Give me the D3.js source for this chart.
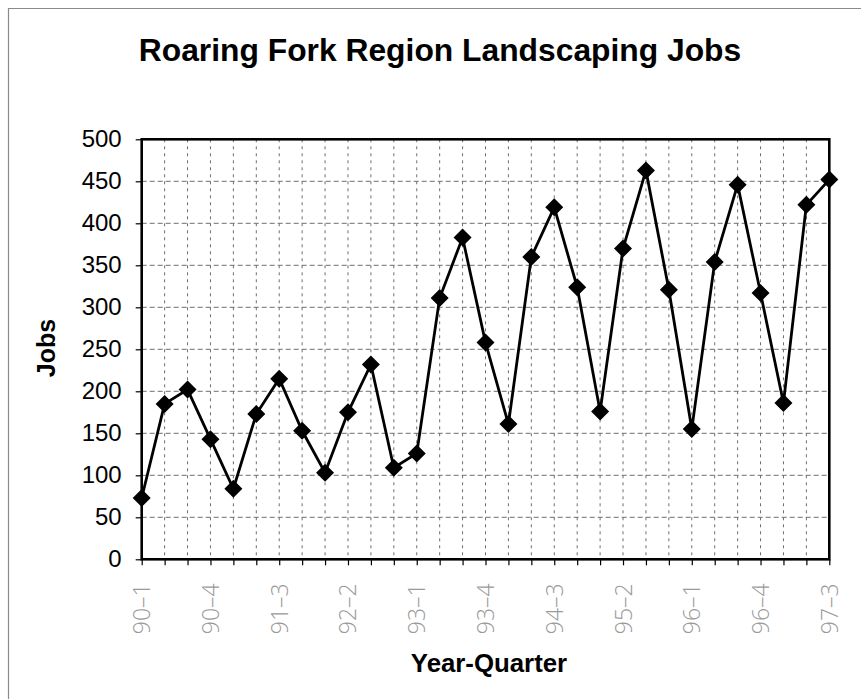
<!DOCTYPE html>
<html>
<head>
<meta charset="utf-8">
<script src="https://cdn.jsdelivr.net/npm/d3@7"></script>
<style>
  html, body { margin: 0; padding: 0; background: #ffffff; }
  svg { display: block; }
</style>
</head>
<body>
<svg id="chart" width="861" height="699"></svg>
<script>
// Quarterly landscaping jobs, Roaring Fork region, 1990 Q1 – 1997 Q3
const quarters = [
  "90-1","90-2","90-3","90-4",
  "91-1","91-2","91-3","91-4",
  "92-1","92-2","92-3","92-4",
  "93-1","93-2","93-3","93-4",
  "94-1","94-2","94-3","94-4",
  "95-1","95-2","95-3","95-4",
  "96-1","96-2","96-3","96-4",
  "97-1","97-2","97-3"
];
const jobs = [
  73, 185, 202, 143,
  84, 173, 215, 153,
  103, 175, 232, 109,
  126, 311, 383, 258,
  161, 360, 419, 324,
  176, 370, 463, 321,
  155, 354, 446, 317,
  186, 422, 452
];
// Quarters that carry a printed label on the horizontal axis
const labelledQuarters = ["90-1","90-4","91-3","92-2","93-1","93-4","94-3","95-2","96-1","96-4","97-3"];
const yTicks = [0, 50, 100, 150, 200, 250, 300, 350, 400, 450, 500];

const svg = d3.select("#chart");
const W = 861, H = 699;
const plot = { left: 141.7, right: 829.3, top: 139.3, bottom: 559.3 };

const x = d3.scalePoint().domain(quarters).range([plot.left, plot.right]);
const y = d3.scaleLinear().domain([0, 500]).range([plot.bottom, plot.top]);

// page frame (top and left edge of the sheet)
svg.append("path")
  .attr("d", `M8.5,${H}V8.5H${W}`)
  .attr("fill", "none")
  .attr("stroke", "#8a8a8a")
  .attr("stroke-width", 1.2);

// title
svg.append("text")
  .attr("x", 440).attr("y", 61)
  .attr("text-anchor", "middle")
  .attr("font-family", "'Liberation Sans', Arial, sans-serif")
  .attr("font-weight", "bold")
  .attr("font-size", 31.8)
  .attr("fill", "#000")
  .text("Roaring Fork Region Landscaping Jobs");

// dashed grid
const grid = svg.append("g").attr("stroke", "#6e6e6e").attr("stroke-width", 1).attr("fill", "none");
grid.selectAll("line.h")
  .data(yTicks.filter(v => v > 0 && v < 500))
  .join("line").attr("class", "h")
  .attr("x1", plot.left).attr("x2", plot.right)
  .attr("y1", d => y(d)).attr("y2", d => y(d))
  .attr("stroke-dasharray", "5,3");
grid.selectAll("line.v")
  .data(quarters.slice(1, -1))
  .join("line").attr("class", "v")
  .attr("x1", d => x(d)).attr("x2", d => x(d))
  .attr("y1", plot.top).attr("y2", plot.bottom)
  .attr("stroke-dasharray", "3,4");

// y axis
const yAxis = d3.axisLeft(y).tickValues(yTicks).tickSize(6).tickPadding(14);
const gy = svg.append("g").attr("transform", `translate(${plot.left},0)`).call(yAxis);
gy.select(".domain").remove();
gy.selectAll(".tick line").attr("stroke", "#000").attr("stroke-width", 1.2);
gy.selectAll(".tick text")
  .attr("font-family", "'Liberation Sans', Arial, sans-serif")
  .attr("font-size", 24)
  .attr("fill", "#000");

// x axis: tick at every quarter, label on every third
const xAxis = d3.axisBottom(x).tickSize(6).tickFormat("");
const gx = svg.append("g").attr("transform", `translate(0,${plot.bottom})`).call(xAxis);
gx.select(".domain").remove();
gx.selectAll(".tick line").attr("stroke", "#000").attr("stroke-width", 1.2);

svg.append("g").selectAll("text")
  .data(labelledQuarters)
  .join("text")
  .attr("transform", d => `translate(${x(d) + 8.5},${plot.bottom + 24}) rotate(-90)`)
  .attr("text-anchor", "end")
  .attr("font-family", "'Open Sans', 'Liberation Sans', sans-serif")
  .attr("font-weight", 300)
  .attr("font-size", 23)
  .attr("fill", "#9a9a9a")
  .text(d => d.replace("-", "\u2013"));

// plot frame
svg.append("rect")
  .attr("x", plot.left).attr("y", plot.top)
  .attr("width", plot.right - plot.left)
  .attr("height", plot.bottom - plot.top)
  .attr("fill", "none")
  .attr("stroke", "#000")
  .attr("stroke-width", 2.6);

// axis titles
svg.append("text")
  .attr("transform", "translate(55,348) rotate(-90)")
  .attr("text-anchor", "middle")
  .attr("font-family", "'Liberation Sans', Arial, sans-serif")
  .attr("font-weight", "bold")
  .attr("font-size", 25)
  .text("Jobs");
svg.append("text")
  .attr("x", 489).attr("y", 672)
  .attr("text-anchor", "middle")
  .attr("font-family", "'Liberation Sans', Arial, sans-serif")
  .attr("font-weight", "bold")
  .attr("font-size", 25.8)
  .text("Year-Quarter");

// series line
const line = d3.line().x((d, i) => x(quarters[i])).y(d => y(d));
svg.append("path")
  .datum(jobs)
  .attr("d", line)
  .attr("fill", "none")
  .attr("stroke", "#000")
  .attr("stroke-width", 2.8)
  .attr("stroke-linejoin", "miter");

// diamond markers
const r = 9;
svg.append("g").selectAll("path")
  .data(jobs)
  .join("path")
  .attr("transform", (d, i) => `translate(${x(quarters[i])},${y(d)})`)
  .attr("d", `M0,${-r}L${r},0L0,${r}L${-r},0Z`)
  .attr("fill", "#000");
</script>
</body>
</html>
